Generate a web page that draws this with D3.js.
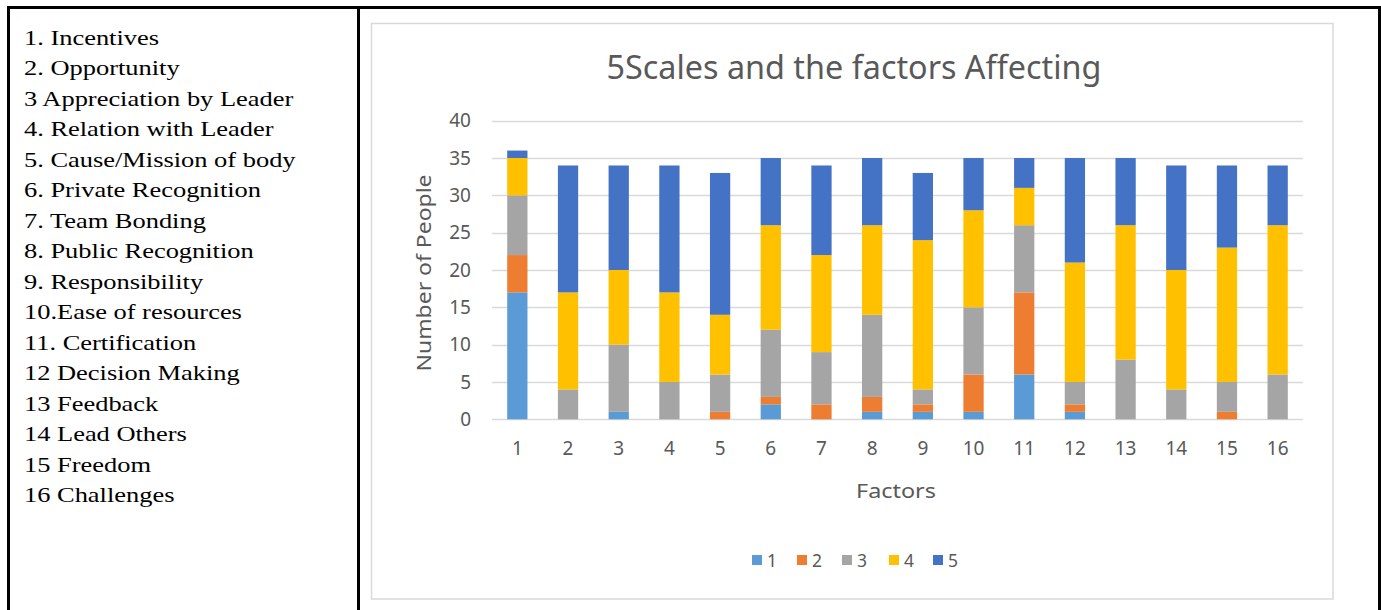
<!DOCTYPE html>
<html>
<head>
<meta charset="utf-8">
<script src="https://cdn.jsdelivr.net/npm/d3@7"></script>
<style>
  body { margin: 0; background: #fff; }
  svg { display: block; }
</style>
</head>
<body>
<div id="chart"></div>
<script>
// factor names listed in the left cell
const factorNames = [
  "1. Incentives", "2. Opportunity", "3 Appreciation by Leader", "4. Relation with Leader",
  "5. Cause/Mission of body", "6. Private Recognition", "7. Team Bonding", "8. Public Recognition",
  "9. Responsibility", "10.Ease of resources", "11. Certification", "12 Decision Making",
  "13 Feedback", "14 Lead Others", "15 Freedom", "16 Challenges"
];
const factors = ["1","2","3","4","5","6","7","8","9","10","11","12","13","14","15","16"];
const scales = ["1","2","3","4","5"];

// number of people per scale, one value per factor
const scale1 = [17, 0, 1, 0, 0, 2, 0, 1, 1, 1, 6, 1, 0, 0, 0, 0];
const scale2 = [ 5, 0, 0, 0, 1, 1, 2, 2, 1, 5,11, 1, 0, 0, 1, 0];
const scale3 = [ 8, 4, 9, 5, 5, 9, 7,11, 2, 9, 9, 3, 8, 4, 4, 6];
const scale4 = [ 5,13,10,12, 8,14,13,12,20,13, 5,16,18,16,18,20];
const scale5 = [ 1,17,14,17,19, 9,12, 9, 9, 7, 4,14, 9,14,11, 8];
const yTicks = [0, 5, 10, 15, 20, 25, 30, 35, 40];

const colors = ["#5b9bd5", "#ed7d31", "#a5a5a5", "#ffc000", "#4472c4"];

const W = 1381, H = 610;
const svg = d3.select("#chart").append("svg")
  .attr("width", W).attr("height", H);

// table borders
const bw = 3;
svg.append("rect").attr("x", 7).attr("y", 6).attr("width", 1381 - 7).attr("height", bw).attr("fill", "#000");
svg.append("rect").attr("x", 7).attr("y", 6).attr("width", bw).attr("height", H).attr("fill", "#000");
svg.append("rect").attr("x", 357).attr("y", 6).attr("width", bw).attr("height", H).attr("fill", "#000");
svg.append("rect").attr("x", 1378).attr("y", 6).attr("width", bw).attr("height", H).attr("fill", "#000");

// left cell text (the source text is a little wide, so stretch it)
svg.append("g")
  .attr("transform", "translate(24,0) scale(1.23,1)")
  .selectAll("text")
  .data(factorNames)
  .join("text")
    .attr("x", 0)
    .attr("y", (d, i) => 45 + i * 30.5)
    .attr("font-family", "'Liberation Serif', 'Times New Roman', serif")
    .attr("font-size", 21.5)
    .attr("fill", "#000")
    .text(d => d);

// chart frame
svg.append("rect")
  .attr("x", 371.5).attr("y", 23.5)
  .attr("width", 1333 - 371.5).attr("height", 599 - 23.5)
  .attr("fill", "#fff").attr("stroke", "#d9d9d9").attr("stroke-width", 1.5);

const font = "'Noto Sans', 'Open Sans', sans-serif";
const textColor = "#595959";

const plot = {left: 492, right: 1303, top: 120.7, bottom: 419.3};

const x = d3.scaleBand()
  .domain(factors)
  .range([plot.left, plot.right])
  .paddingInner(0.6)
  .paddingOuter(0.3);

const y = d3.scaleLinear()
  .domain([0, 40])
  .range([plot.bottom, plot.top]);

// gridlines
svg.append("g")
  .selectAll("line")
  .data(yTicks)
  .join("line")
    .attr("x1", plot.left).attr("x2", plot.right)
    .attr("y1", d => Math.round(y(d)) + 0.5).attr("y2", d => Math.round(y(d)) + 0.5)
    .attr("stroke", "#d9d9d9").attr("stroke-width", 1.5);

// stacked bars
const table = factors.map((f, i) => ({
  factor: f,
  "1": scale1[i], "2": scale2[i], "3": scale3[i], "4": scale4[i], "5": scale5[i]
}));
const stack = d3.stack().keys(scales)(table);

svg.append("g")
  .selectAll("g")
  .data(stack)
  .join("g")
    .attr("fill", (d, i) => colors[i])
  .selectAll("rect")
  .data(d => d)
  .join("rect")
    .attr("x", d => x(d.data.factor))
    .attr("width", x.bandwidth())
    .attr("y", d => y(d[1]))
    .attr("height", d => y(d[0]) - y(d[1]));

// y axis
const yAxis = svg.append("g")
  .attr("transform", `translate(${plot.left - 21},0)`)
  .call(d3.axisLeft(y).tickValues(yTicks).tickSize(0).tickPadding(0));
yAxis.select(".domain").remove();
yAxis.selectAll("text")
  .attr("font-family", font).attr("font-size", 19).attr("fill", textColor);

// x axis
const xAxis = svg.append("g")
  .attr("transform", `translate(0,${plot.bottom})`)
  .call(d3.axisBottom(x).tickSize(0).tickPadding(22));
xAxis.select(".domain").remove();
xAxis.selectAll("text")
  .attr("font-family", font).attr("font-size", 19).attr("fill", textColor);

// title
const title = svg.append("text")
  .attr("x", 854).attr("y", 79)
  .attr("text-anchor", "middle")
  .attr("font-family", font)
  .attr("font-size", 27)
  .attr("fill", textColor)
  .text("5Scales and the factors Affecting");
const tw = title.node().getComputedTextLength();
title.attr("font-size", 27 * 495 / tw);

// axis titles
svg.append("text")
  .attr("transform", "translate(431,273) rotate(-90)")
  .attr("text-anchor", "middle")
  .attr("font-family", font).attr("font-size", 19.5).attr("fill", textColor)
  .attr("textLength", 197).attr("lengthAdjust", "spacingAndGlyphs")
  .text("Number  of People");

svg.append("text")
  .attr("x", 896).attr("y", 498)
  .attr("text-anchor", "middle")
  .attr("font-family", font).attr("font-size", 20).attr("fill", textColor)
  .attr("textLength", 80).attr("lengthAdjust", "spacingAndGlyphs")
  .text("Factors");

// legend
const legendX = [752, 797, 842, 889, 933];
const legend = svg.append("g")
  .selectAll("g")
  .data(scales)
  .join("g")
    .attr("transform", (d, i) => `translate(${legendX[i]},555)`);
legend.append("rect")
  .attr("width", 10).attr("height", 10)
  .attr("fill", (d, i) => colors[i]);
legend.append("text")
  .attr("x", 15).attr("y", 11.5)
  .attr("font-family", font).attr("font-size", 17.5).attr("fill", textColor)
  .text(d => d);
</script>
</body>
</html>
